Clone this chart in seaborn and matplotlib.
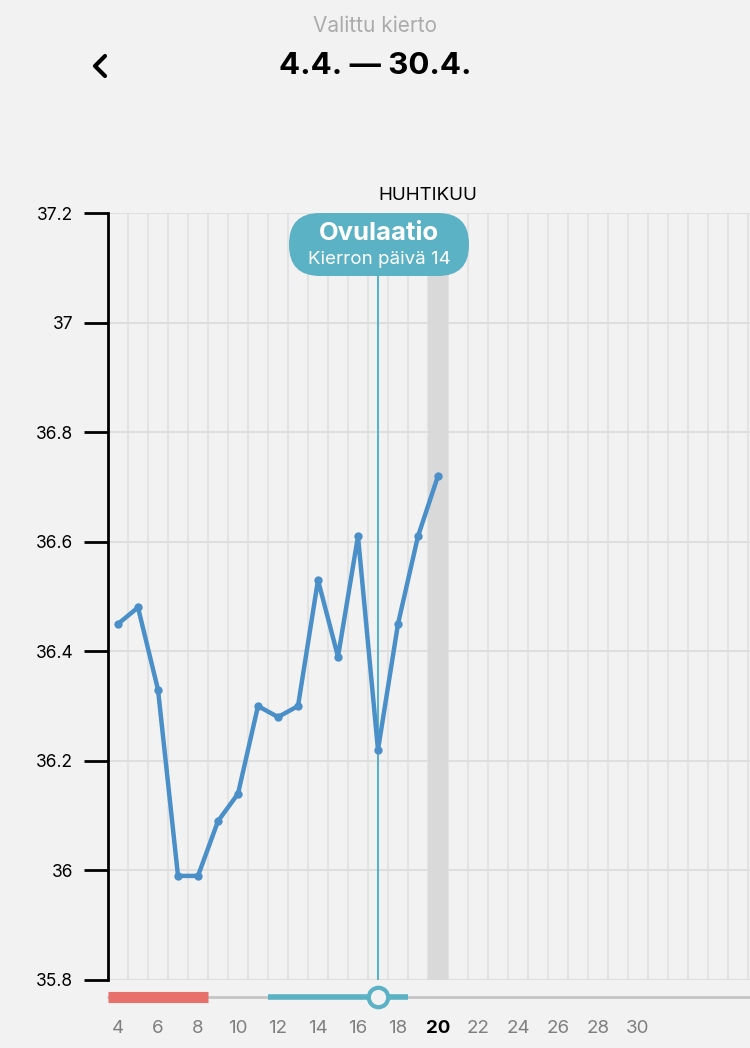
import matplotlib
matplotlib.use("Agg")
import matplotlib.pyplot as plt
import seaborn as sns
import pandas as pd
from matplotlib.patches import FancyBboxPatch
from matplotlib.transforms import IdentityTransform
from matplotlib.lines import Line2D

days = [4, 5, 6, 7, 8, 9, 10, 11, 12, 13, 14, 15, 16, 17, 18, 19, 20]
temps = [36.45, 36.48, 36.33, 35.99, 35.99, 36.09, 36.14, 36.30, 36.28, 36.30,
         36.53, 36.39, 36.61, 36.22, 36.45, 36.61, 36.72]
x_ticks = [4, 6, 8, 10, 12, 14, 16, 18, 20, 22, 24, 26, 28, 30]
y_ticks = [35.8, 36.0, 36.2, 36.4, 36.6, 36.8, 37.0, 37.2]
y_labels = ["35.8", "36", "36.2", "36.4", "36.6", "36.8", "37", "37.2"]
ovulation_day = 17
today = 20
period_days = (4, 8)
fertile_days = (12, 18)
month_label = "HUHTIKUU"
title = "4.4. \u2014 30.4."
subtitle = "Valittu kierto"
bubble_title = "Ovulaatio"
bubble_sub = "Kierron päivä 14"

sns.set_theme(style="white")
plt.rcParams['font.family'] = ['Inter', 'DejaVu Sans']

BG = "#F2F2F2"
TEAL = "#5BB2C4"
LINE = "#4A8FC7"

W, H = 750, 1048
fig = plt.figure(figsize=(W / 100, H / 100), dpi=100, facecolor=BG)
ax = fig.add_axes([108 / W, 1 - 980 / H, (W - 108) / W, (980 - 213) / H])
ax.set_facecolor(BG)

xmin, xmax = 3.5, 35.6
ax.set_xlim(xmin, xmax)
ax.set_ylim(35.8, 37.2)

# vertical grid at half days
for g in range(4, 36):
    ax.axvline(g + 0.5, color="#E3E3E3", lw=1.5, zorder=0)
for yv in y_ticks:
    ax.axhline(yv, color="#DEDEDE", lw=1.5, zorder=0)

ax.axvspan(today - 0.5, today + 0.5, color="#D9D9D9", zorder=0.5, lw=0)
ax.axvline(ovulation_day, color=TEAL, lw=1.5, zorder=1)

df = pd.DataFrame({"day": days, "temp": temps})
sns.lineplot(data=df, x="day", y="temp", ax=ax, color=LINE, lw=3.2,
             marker="o", markersize=6, markeredgewidth=0, zorder=3)
ax.set_xlabel("")
ax.set_ylabel("")

for s in ["top", "right", "bottom"]:
    ax.spines[s].set_visible(False)
ax.spines["left"].set_color("black")
ax.spines["left"].set_linewidth(2)

ax.set_yticks(y_ticks)
ax.set_yticklabels(y_labels, fontsize=12.5, color="black")
ax.tick_params(axis="y", left=True, length=17, width=2, color="black", pad=8, direction="out")
ax.set_xticks(x_ticks)
ax.set_xticklabels([str(t) for t in x_ticks], fontsize=13.5, color="#7F7F7F")
ax.tick_params(axis="x", bottom=False, length=0, pad=29)
for lab in ax.get_xticklabels():
    if lab.get_text() == str(today):
        lab.set_color("black")
        lab.set_fontweight("bold")

# bottom cycle bar
tr = ax.get_xaxis_transform()
yb = -(997 - 980) / (980 - 213)
ax.add_line(Line2D([xmin, xmax], [yb, yb], transform=tr, color="#C4C4C4", lw=2, clip_on=False))
ax.add_line(Line2D([period_days[0] - 0.5, period_days[1] + 0.5], [yb, yb], transform=tr,
                   color="#E8706A", lw=8, solid_capstyle="butt", clip_on=False))
ax.add_line(Line2D([fertile_days[0] - 0.5, fertile_days[1] + 0.5], [yb, yb], transform=tr,
                   color=TEAL, lw=4, solid_capstyle="butt", clip_on=False))
ax.plot([ovulation_day], [yb], transform=tr, marker="o", markersize=14,
        markerfacecolor=BG, markeredgecolor=TEAL, markeredgewidth=3, clip_on=False, zorder=5)

# bubble
bx, by, bw, bh = 289, H - 276, 180, 63
bubble = FancyBboxPatch((bx, by), bw, bh, boxstyle="round,pad=0,rounding_size=31",
                        transform=IdentityTransform(), facecolor=TEAL, edgecolor="none", zorder=6)
fig.patches.append(bubble)
fig.text(379 / W, 1 - 233 / H, bubble_title, ha="center", va="center", fontsize=18.5,
         fontweight="bold", color="white", zorder=7)
fig.text(379 / W, 1 - 260 / H, bubble_sub, ha="center", va="center", fontsize=13.5,
         color="white", zorder=7)

fig.text(428 / W, 1 - 196 / H, month_label, ha="center", va="center", fontsize=13.5, color="black")
fig.text(375 / W, 1 - 26 / H, subtitle, ha="center", va="center", fontsize=15, color="#ABABAB")
fig.text(375 / W, 1 - 66 / H, title, ha="center", va="center", fontsize=22.5,
         fontweight="bold", color="black")
# back chevron
fig.lines.append(Line2D([105, 95, 105], [H - 56, H - 66, H - 76], transform=IdentityTransform(),
                        color="black", lw=3, solid_capstyle="round", solid_joinstyle="round"))

fig.savefig("out.png", dpi=100, facecolor=BG)
